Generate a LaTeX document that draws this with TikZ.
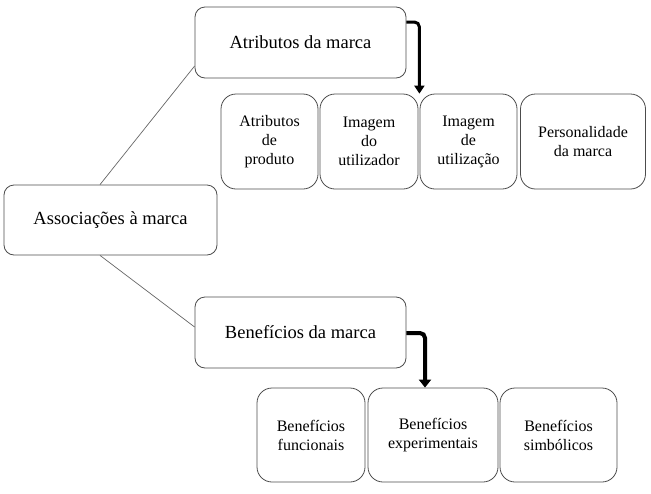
\documentclass[tikz,border=0pt]{standalone}
\usepackage{fontspec}
\setmainfont{Liberation Serif}
\usetikzlibrary{arrows.meta}
\tikzset{
  mainbox/.style={draw=black!70, line width=0.8pt, rounded corners=10pt, inner sep=0pt, minimum height=71pt, font=\fontsize{18.5}{22}\selectfont},
  subbox/.style={draw=black!70, line width=0.8pt, rounded corners=15pt, inner sep=0pt, minimum height=95pt, align=center, font=\fontsize{16}{19}\selectfont},
  link/.style={draw=black!60, line width=0.7pt},
  bigarrow/.style={line width=3pt, rounded corners=5pt, -{Triangle[length=8pt,width=10pt]}}
}
\begin{document}
\begin{tikzpicture}[x=1pt,y=-1pt]
\useasboundingbox (0,0) rectangle (651,493);
\node[mainbox, minimum width=211pt] (attr) at (300.5,42.5) {Atributos da marca};
\node[subbox, minimum width=97pt] (a1) at (269.5,141.5) {Atributos\\de\\produto};
\node[subbox, minimum width=98pt] (a2) at (369,141.5) {Imagem\\do\\utilizador};
\node[subbox, minimum width=97pt] (a3) at (468.5,141.5) {Imagem\\de\\utilização};
\node[subbox, minimum width=125pt] (a4) at (583,141.5) {Personalidade\\da marca};
\node[mainbox, minimum width=213pt, minimum height=70pt] (assoc) at (110.5,220) {Associações à marca};
\node[mainbox, minimum width=211pt] (ben) at (300.5,332.5) {Benefícios da marca};
\node[subbox, minimum width=108pt, minimum height=94pt] (b1) at (311,435) {Benefícios\\funcionais};
\node[subbox, minimum width=130pt, minimum height=94pt] (b2) at (433,435) {Benefícios\\experimentais};
\node[subbox, minimum width=117pt, minimum height=94pt] (b3) at (558.5,435) {Benefícios\\simbólicos};
\draw[link] (assoc.north -| 100,0) -- (attr.west |- 0,66);
\draw[link] (assoc.south -| 100,0) -- (ben.west |- 0,327);
\draw[bigarrow] (attr.east |- 0,22) -| ([xshift=1pt]a2.north east);
\draw[bigarrow, line width=4pt, -{Triangle[length=8pt,width=12pt]}] (ben.east |- 0,333) -| (b2.north -| 425,0);
\end{tikzpicture}
\end{document}
